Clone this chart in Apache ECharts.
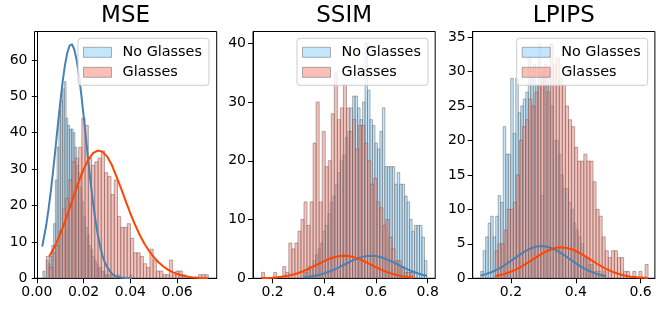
<!DOCTYPE html>
<html><head><meta charset="utf-8">
<script src="https://cdn.jsdelivr.net/npm/echarts@6/dist/echarts.min.js"></script>
<style>html,body{margin:0;padding:0;background:#fff}#c{width:664px;height:309px}</style>
</head><body><div id="c"></div>
<script>
// ---------- DATA ----------
const titles = ['MSE', 'SSIM', 'LPIPS'];
const seriesNames = ['No Glasses', 'Glasses'];

// MSE histograms (bin start, bin width, counts)
const mseNoStart = 0.0026, mseNoWidth = 0.00076;
const mseNoCounts = [2,0,5,4,6,9,15,27,36,46, 49,52,54,44,42,41,41,40,36,31, 29,25,21,17,14,12,9,8,6,5, 4,3,3,2,2,1,1,1,0,1, 0,0,1,0,0,0,0,0,0,1];
const mseGlStart = 0.004, mseGlWidth = 0.001386;
const mseGlCounts = [6,3,7,9,13,19,22,27,32,33, 36,44,42,33,31,32,33,35,29,28, 23,27,17,14,14,15,11,7,7,6, 4,3,8,5,2,2,1,1,5,1, 2,2,1,0,0,0,0,1,1,1];
// MSE curves
const mseNoCurveX = [0.0023,0.004,0.005,0.006,0.007,0.008,0.009,0.010,0.011,0.012,0.013,0.014,0.015,0.016,0.017,0.018,0.019,0.020,0.021,0.022,0.023,0.024,0.025,0.026,0.027,0.028,0.029,0.030,0.032,0.034,0.036,0.038,0.0406];
const mseNoCurveY = [8.7,14.5,19.0,24.0,29.8,35.9,42.2,48.2,53.9,58.5,61.9,63.9,64.3,62.9,60.0,55.8,50.5,44.6,38.4,32.2,26.3,20.9,16.2,12.2,9.0,6.4,4.5,3.1,1.3,0.5,0.2,0.06,0.01];
const mseGlCurveX = [0.0053,0.008,0.010,0.012,0.014,0.016,0.018,0.020,0.022,0.024,0.026,0.028,0.030,0.032,0.034,0.036,0.038,0.040,0.042,0.044,0.046,0.048,0.050,0.052,0.054,0.056,0.058,0.060,0.063,0.066,0.070,0.0733];
const mseGlCurveY = [6.0,9.2,12.2,15.5,19.2,23.0,26.7,30.0,32.6,34.4,35.1,34.8,33.5,31.2,28.0,24.7,21.2,17.8,14.7,11.9,9.5,7.5,5.8,4.4,3.3,2.4,1.7,1.2,0.65,0.3,0.1,0.04];

// SSIM histograms
const ssimNoStart = 0.318, ssimNoWidth = 0.00958;
const ssimNoCounts = [1,1,2,2,3,4,5,6,8,9, 11,13,14,16,18,20,21,24,25,29, 31,31,29,27,30,40,32,27,26,23, 22,25,29,19,19,19,19,16,18,16, 16,14,13,10,8,9,9,9,7,3];
const ssimGlStart = 0.157, ssimGlWidth = 0.01174;
const ssimGlCounts = [1,0,0,0,1,0,0,2,1,6, 5,6,8,10,13,9,13,23,30,13, 25,19,20,28,35,27,29,33,29,25, 27,22,26,26,23,20,16,17,13,12, 9,10,7,5,3,3,2,1,1,1];
const ssimNoCurveX = [0.318,0.34,0.36,0.38,0.40,0.42,0.44,0.46,0.48,0.50,0.52,0.54,0.56,0.58,0.60,0.62,0.64,0.66,0.68,0.70,0.72,0.74,0.76,0.78,0.797];
const ssimNoCurveY = [0.16,0.26,0.40,0.59,0.84,1.15,1.52,1.95,2.39,2.84,3.24,3.56,3.77,3.85,3.79,3.59,3.27,2.88,2.44,1.99,1.57,1.19,0.87,0.61,0.44];
const ssimGlCurveX = [0.157,0.18,0.20,0.22,0.24,0.26,0.28,0.30,0.32,0.34,0.36,0.38,0.40,0.42,0.44,0.46,0.48,0.50,0.52,0.54,0.56,0.58,0.60,0.62,0.64,0.66,0.68,0.70,0.72,0.744];
const ssimGlCurveY = [0.03,0.07,0.11,0.18,0.29,0.44,0.64,0.91,1.24,1.63,2.06,2.51,2.94,3.33,3.62,3.80,3.85,3.75,3.52,3.18,2.77,2.33,1.88,1.47,1.10,0.80,0.55,0.37,0.24,0.14];

// LPIPS histograms
const lpipsNoStart = 0.1066, lpipsNoWidth = 0.00773;
const lpipsNoCounts = [1,4,6,8,9,6,9,12,11,22, 18,18,29,21,29,24,25,26,27,32, 29,31,28,34,12,30,28,30,25,20, 20,18,15,13,13,11,10,8,7,6, 5,3,3,2,2,1,1,1,0,1];
const lpipsGlStart = 0.151, lpipsGlWidth = 0.00944;
const lpipsGlCounts = [4,5,5,7,10,10,11,15,20,22, 23,26,25,27,28,30,31,27,34,31, 32,29,28,25,23,22,19,17,17,18, 17,17,14,10,9,6,4,3,4,4, 3,3,1,1,0,1,0,1,0,2];
const lpipsNoCurveX = [0.107,0.12,0.14,0.16,0.18,0.20,0.22,0.24,0.26,0.28,0.30,0.32,0.34,0.36,0.38,0.40,0.42,0.44,0.46,0.48,0.493];
const lpipsNoCurveY = [0.41,0.57,0.90,1.34,1.89,2.53,3.19,3.82,4.32,4.62,4.68,4.48,4.07,3.49,2.83,2.17,1.58,1.09,0.71,0.43,0.31];
const lpipsGlCurveX = [0.151,0.17,0.19,0.21,0.23,0.25,0.27,0.29,0.31,0.33,0.35,0.37,0.39,0.41,0.43,0.45,0.47,0.49,0.51,0.53,0.55,0.57,0.59,0.623];
const lpipsGlCurveY = [0.31,0.50,0.78,1.16,1.64,2.20,2.81,3.41,3.93,4.31,4.49,4.44,4.18,3.74,3.18,2.57,1.97,1.44,1.00,0.66,0.41,0.24,0.14,0.05];

// Axis ranges and ticks
const xRanges = [[-0.001, 0.0769], [0.124, 0.829], [0.082, 0.644]];
const yMaxes = [67.8, 42.0, 35.8];
const mseXTicks = [0, 0.02, 0.04, 0.06];
const ssimXTicks = [0.2, 0.4, 0.6, 0.8];
const lpipsXTicks = [0.2, 0.4, 0.6];
const mseYTicks = [0, 10, 20, 30, 40, 50, 60];
const ssimYTicks = [0, 10, 20, 30, 40];
const lpipsYTicks = [0, 5, 10, 15, 20, 25, 30, 35];
const xDecimals = [2, 1, 1];

// ---------- LAYOUT / STYLE ----------
const FONT = 'DejaVu Sans';
const gridLefts = [34.5, 253, 472.7];
const gridTop = 31.5, gridW = 182.2, gridH = 246.8;
const legendLefts = [78, 297, 516.7];
const blueFill = 'rgba(135,206,250,0.5)', redFill = 'rgba(250,128,114,0.5)';
const edgeCol = 'rgba(100,100,100,0.5)';
const blueLine = '#4682b4', redLine = '#ff4500';

const hists = [
  [[mseNoStart, mseNoWidth, mseNoCounts], [mseGlStart, mseGlWidth, mseGlCounts]],
  [[ssimNoStart, ssimNoWidth, ssimNoCounts], [ssimGlStart, ssimGlWidth, ssimGlCounts]],
  [[lpipsNoStart, lpipsNoWidth, lpipsNoCounts], [lpipsGlStart, lpipsGlWidth, lpipsGlCounts]]
];
const curves = [
  [[mseNoCurveX, mseNoCurveY], [mseGlCurveX, mseGlCurveY]],
  [[ssimNoCurveX, ssimNoCurveY], [ssimGlCurveX, ssimGlCurveY]],
  [[lpipsNoCurveX, lpipsNoCurveY], [lpipsGlCurveX, lpipsGlCurveY]]
];
const xTicks = [mseXTicks, ssimXTicks, lpipsXTicks];
const yTicks = [mseYTicks, ssimYTicks, lpipsYTicks];

function histData(start, width, counts) {
  return counts.map((c, i) => [start + i * width, start + (i + 1) * width, c]);
}
function makeRender(fill) {
  return function (params, api) {
    const p0 = api.coord([api.value(0), api.value(2)]);
    const p1 = api.coord([api.value(1), 0]);
    return {
      type: 'rect',
      shape: { x: p0[0], y: p0[1], width: p1[0] - p0[0], height: p1[1] - p0[1] },
      style: { fill: fill, stroke: edgeCol, lineWidth: 1 }
    };
  };
}

const grid = [], xAxis = [], yAxis = [], series = [], title = [], legend = [];
for (let i = 0; i < 3; i++) {
  grid.push({ left: gridLefts[i], top: gridTop, width: gridW, height: gridH, show: true,
    borderColor: '#000', borderWidth: 1, backgroundColor: 'transparent', containLabel: false });
  const dec = xDecimals[i];
  xAxis.push({ type: 'value', gridIndex: i, min: xRanges[i][0], max: xRanges[i][1],
    axisLine: { show: true, lineStyle: { color: '#000', width: 1 } },
    axisTick: { show: true, length: 5, lineStyle: { color: '#000' }, customValues: xTicks[i] },
    axisLabel: { show: true, customValues: xTicks[i], fontSize: 14, color: '#000', fontFamily: FONT, margin: 7,
      formatter: v => Number(v).toFixed(dec) },
    splitLine: { show: false } });
  yAxis.push({ type: 'value', gridIndex: i, min: 0, max: yMaxes[i],
    axisLine: { show: true, lineStyle: { color: '#000', width: 1 } },
    axisTick: { show: true, length: 5, lineStyle: { color: '#000' }, customValues: yTicks[i] },
    axisLabel: { show: true, customValues: yTicks[i], fontSize: 14, color: '#000', fontFamily: FONT, margin: 7,
      formatter: v => String(Math.round(v)) },
    splitLine: { show: false } });
  title.push({ text: titles[i], left: gridLefts[i] + gridW / 2, top: 5, textAlign: 'center', padding: 0,
    textStyle: { fontSize: 23, fontWeight: 'normal', color: '#000', fontFamily: FONT } });
  legend.push({ left: legendLefts[i], top: 38.3, orient: 'vertical', itemWidth: 28, itemHeight: 10, itemGap: 6,
    padding: [7, 7, 6, 5], backgroundColor: 'rgba(255,255,255,0.8)', borderColor: '#cccccc', borderWidth: 1,
    borderRadius: 3, selectedMode: false, icon: 'rect',
    textStyle: { fontSize: 14.4, color: '#000', fontFamily: FONT, padding: [0, 0, 0, 6] },
    data: [
      { name: seriesNames[0], itemStyle: { color: blueFill, borderColor: edgeCol, borderWidth: 1 } },
      { name: seriesNames[1], itemStyle: { color: redFill, borderColor: edgeCol, borderWidth: 1 } }
    ] });
  const fills = [blueFill, redFill];
  for (let s = 0; s < 2; s++) {
    const h = hists[i][s];
    series.push({ type: 'custom', name: seriesNames[s], xAxisIndex: i, yAxisIndex: i,
      data: histData(h[0], h[1], h[2]), encode: { x: [0, 1], y: 2 }, clip: true, silent: true,
      itemStyle: { color: fills[s], borderColor: edgeCol }, renderItem: makeRender(fills[s]), z: 2 });
  }
  const lc = [blueLine, redLine];
  for (let s = 0; s < 2; s++) {
    const c = curves[i][s];
    series.push({ type: 'line', xAxisIndex: i, yAxisIndex: i, data: c[0].map((x, j) => [x, c[1][j]]),
      showSymbol: false, symbol: 'none', smooth: false, silent: true,
      lineStyle: { color: lc[s], width: 2, join: 'round' }, itemStyle: { color: lc[s] }, z: 3 });
  }
}

const chart = echarts.init(document.getElementById('c'), null, { renderer: 'canvas' });
chart.setOption({ animation: false, backgroundColor: '#fff', textStyle: { fontFamily: FONT },
  title, legend, grid, xAxis, yAxis, series });
</script></body></html>
